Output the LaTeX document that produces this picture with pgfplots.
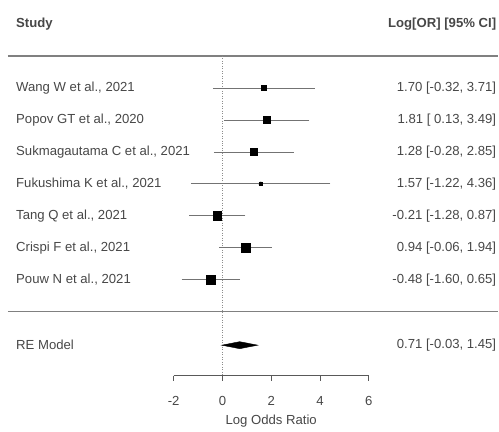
\documentclass[border=0pt]{standalone}
\usepackage{fontspec}
\setmainfont{Liberation Sans}
\usepackage{pgfplots}
\pgfplotsset{compat=1.18}
\usepackage{pgfplotstable}

\pgfplotstableread{
y x ep em s
7 1.70 2.01 2.02 2.8
6 1.81 1.68 1.68 3.2
5 1.28 1.57 1.56 3.2
4 1.57 2.79 2.79 1.8
3 -0.21 1.08 1.07 4.3
2 0.94 1.00 1.00 4.6
1 -0.48 1.13 1.12 4.3
}\studies

\begin{document}
\fontsize{13.2}{15}\selectfont
\begin{tikzpicture}[every node/.append style={text=black!72, inner xsep=0pt}]
\begin{axis}[
  scale only axis, width=499bp, height=432bp,
  xmin=-9.127, xmax=11.324, ymin=-3.75, ymax=9.75,
  axis lines=none, clip=false,
]
% fix the picture's extent to the full axis area
\path (rel axis cs:0,0) rectangle (rel axis cs:1,1);
% horizontal rules
\draw[black!50, line width=1.2pt] (axis cs:-8.8,8) -- (axis cs:11.324,8);
\draw[black!50, line width=1.2pt] (axis cs:-8.8,0) -- (axis cs:11.324,0);
% reference line
\draw[black!45, dotted, line width=0.5pt] (axis cs:0,8) -- (axis cs:0,-2);

% confidence intervals
\addplot[black!55, only marks, mark=none,
  error bars/.cd, x dir=both, x explicit,
  error bar style={black!55, line width=0.6pt},
  error mark options={black!55, mark size=1.8pt, line width=0.6pt}]
  table[x=x, y=y, x error plus=ep, x error minus=em] {\studies};

% point estimates
\addplot[scatter, only marks, mark=square*,
  scatter/use mapped color={draw=black, fill=black},
  visualization depends on={\thisrow{s}\as\ms},
  scatter/@pre marker code/.append style={/tikz/mark size=\ms}]
  table[x=x, y=y, meta=s] {\studies};

% RE model diamond
\addplot[fill=black, draw=black] coordinates {(-0.03,-1.05) (0.71,-0.94) (1.45,-1.05) (0.71,-1.16)} -- cycle;

% x axis
\draw[black!65, line width=0.7pt] (axis cs:-2,-2) -- (axis cs:6,-2);
\pgfplotsinvokeforeach{-2,0,2,4,6}{
  \draw[black!65, line width=0.7pt] (axis cs:#1,-2) -- (axis cs:#1,-2.16);
  \node at (axis cs:#1,-2.8) {#1};
}
\node at (axis cs:2,-3.42) {Log Odds Ratio};

% headers
\node[anchor=west, font=\bfseries] at (axis cs:-8.47,9.0) {Study};
\node[anchor=east, font=\bfseries] at (axis cs:11.24,9.0) {Log[OR] [95\% CI]};

% study labels
\node[anchor=west] at (axis cs:-8.47,7) {Wang W et al., 2021};
\node[anchor=west] at (axis cs:-8.47,6) {Popov GT et al., 2020};
\node[anchor=west] at (axis cs:-8.47,5) {Sukmagautama C et al., 2021};
\node[anchor=west] at (axis cs:-8.47,4) {Fukushima K et al., 2021};
\node[anchor=west] at (axis cs:-8.47,3) {Tang Q et al., 2021};
\node[anchor=west] at (axis cs:-8.47,2) {Crispi F et al., 2021};
\node[anchor=west] at (axis cs:-8.47,1) {Pouw N et al., 2021};
\node[anchor=west] at (axis cs:-8.47,-1.05) {RE Model};

% estimates text
\node[anchor=east] at (axis cs:11.24,7) {1.70 [-0.32, 3.71]};
\node[anchor=east] at (axis cs:11.24,6) {1.81 [ 0.13, 3.49]};
\node[anchor=east] at (axis cs:11.24,5) {1.28 [-0.28, 2.85]};
\node[anchor=east] at (axis cs:11.24,4) {1.57 [-1.22, 4.36]};
\node[anchor=east] at (axis cs:11.24,3) {-0.21 [-1.28, 0.87]};
\node[anchor=east] at (axis cs:11.24,2) {0.94 [-0.06, 1.94]};
\node[anchor=east] at (axis cs:11.24,1) {-0.48 [-1.60, 0.65]};
\node[anchor=east] at (axis cs:11.24,-1.05) {0.71 [-0.03, 1.45]};
\end{axis}
\end{tikzpicture}
\end{document}
